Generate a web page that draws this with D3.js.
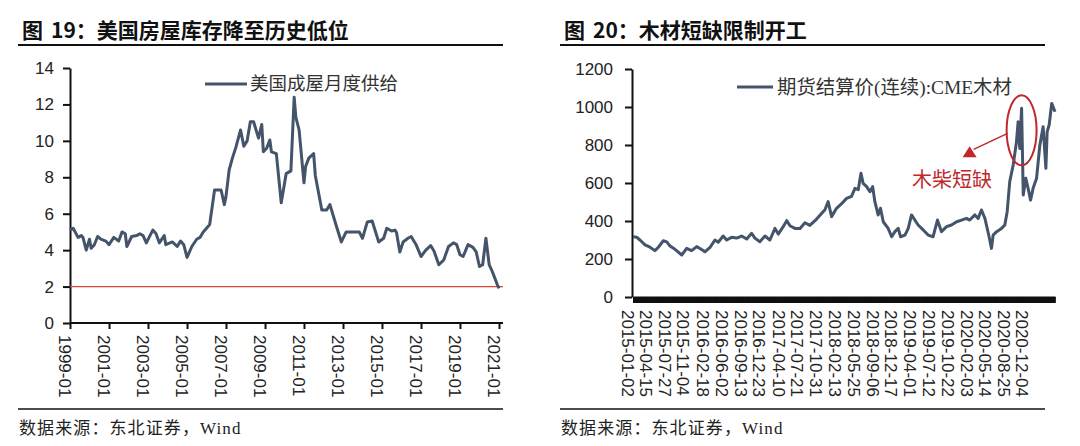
<!DOCTYPE html>
<html>
<head>
<meta charset="utf-8">
<script src="https://cdn.jsdelivr.net/npm/d3@7"></script>
<style>
  html, body { margin: 0; padding: 0; background: #fff; }
  svg { display: block; }
</style>
</head>
<body>
<svg id="chart" width="1080" height="446"></svg>
<script>
// ---------------- DATA ----------------
// Figure 19: US existing home months' supply
const supplyDates = ["1999-01","1999-03","1999-06","1999-08","1999-09","1999-11","2000-01","2000-02","2000-04","2000-06","2000-08","2000-11",
"2001-01","2001-04","2001-07","2001-09","2001-11","2001-12","2002-03","2002-06","2002-08","2002-10","2002-12",
"2003-04","2003-06","2003-08","2003-11","2003-12","2004-04","2004-07","2004-09","2004-11","2005-01","2005-04","2005-07","2005-09","2005-11",
"2006-01","2006-03","2006-06","2006-10","2006-12","2007-01","2007-03","2007-05","2007-07","2007-10","2007-12",
"2008-02","2008-04","2008-06","2008-09","2008-11","2008-12","2009-02","2009-04","2009-05","2009-08","2009-11",
"2010-02","2010-05","2010-07","2010-08","2010-10","2011-01","2011-02","2011-04","2011-07","2011-08","2011-12",
"2012-03","2012-05","2012-09","2012-12","2013-03","2013-07","2013-11","2014-01","2014-04","2014-07","2014-11",
"2015-02","2015-04","2015-07","2015-09","2015-10","2015-12","2016-02","2016-05","2016-07","2016-10",
"2017-01","2017-04","2017-07","2017-09","2017-12","2018-03","2018-06","2018-09","2018-11",
"2019-01","2019-03","2019-06","2019-09","2019-11","2020-01","2020-03","2020-05","2020-07","2020-09","2020-12","2021-01"];
const supplyValues = [5.1,5.2,4.7,4.8,4.7,4.0,4.6,4.1,4.3,4.75,4.6,4.5,
4.3,4.7,4.5,5.0,4.9,4.2,4.75,4.8,4.9,4.8,4.4,
5.1,4.9,4.4,4.8,4.3,4.45,4.2,4.5,4.3,3.6,4.2,4.6,4.7,5.0,
5.2,5.4,7.3,7.3,6.5,6.95,8.4,9.05,9.6,10.6,9.7,
10.0,11.05,11.05,10.15,10.9,9.4,9.6,10.05,9.4,9.3,6.6,
8.2,8.35,12.4,11.3,10.6,7.7,8.6,9.05,9.3,8.1,6.2,
6.2,6.5,5.3,4.45,5.0,5.0,5.0,4.65,5.55,5.6,4.45,
4.65,5.2,5.05,5.1,4.95,3.9,4.45,4.65,4.75,4.3,
3.65,4.0,4.25,3.95,3.2,3.45,4.2,4.4,4.3,
3.75,3.65,4.3,4.15,3.9,3.1,3.2,4.65,3.2,2.8,2.1,1.9];
const supplyTicksY = [0,2,4,6,8,10,12,14];
const supplyTicksX = ["1999-01","2001-01","2003-01","2005-01","2007-01","2009-01","2011-01","2013-01","2015-01","2017-01","2019-01","2021-01"];
const supplyRefLine = 2;

// Figure 20: CME lumber futures settlement price (continuous)
const lumberDates = ["2015-01-02","2015-01-22","2015-02-09","2015-03-09","2015-04-05","2015-05-02","2015-05-21","2015-06-17","2015-07-06","2015-07-24",
"2015-08-20","2015-09-26","2015-10-23","2015-11-19","2015-12-17","2016-01-13","2016-01-31","2016-02-28","2016-03-26","2016-04-13",
"2016-05-10","2016-05-29","2016-06-25","2016-07-23","2016-08-19","2016-09-16","2016-10-13","2016-10-31","2016-11-27","2016-12-25",
"2017-01-21","2017-02-18","2017-03-08","2017-04-04","2017-04-23","2017-05-11","2017-06-07","2017-07-05","2017-08-01","2017-08-28",
"2017-10-04","2017-10-31","2017-11-18","2017-12-06","2017-12-25","2018-01-21","2018-02-18","2018-03-17","2018-04-13","2018-05-02",
"2018-05-20","2018-06-04","2018-06-16","2018-07-05","2018-07-23","2018-08-07","2018-08-19","2018-09-06","2018-09-19","2018-10-04",
"2018-10-31","2018-11-19","2018-12-07","2018-12-25","2019-01-07","2019-01-31","2019-02-18","2019-03-08","2019-03-26","2019-04-13",
"2019-05-11","2019-06-07","2019-07-04","2019-07-28","2019-08-19","2019-09-16","2019-10-13","2019-11-10","2019-12-07","2020-01-03",
"2020-01-21","2020-02-18","2020-03-07","2020-03-25","2020-04-13","2020-05-06","2020-05-19","2020-05-28","2020-06-16","2020-07-13",
"2020-07-31","2020-08-13","2020-08-27","2020-09-15","2020-10-03","2020-10-12","2020-10-21","2020-10-31","2020-11-09","2020-11-23",
"2020-12-06","2020-12-19","2021-01-02","2021-01-21","2021-02-08","2021-02-26","2021-03-13","2021-03-20","2021-03-31","2021-04-14","2021-05-02"];
const lumberValues = [317,315,300,274,262,244,262,296,290,268,
251,221,256,244,265,250,238,261,300,288,
321,300,314,310,321,305,335,310,291,321,
300,361,331,370,402,375,361,361,391,377,
410,440,458,502,423,467,491,519,530,572,
565,651,598,581,554,581,502,432,467,396,
361,317,344,361,317,326,361,432,405,379,
353,326,317,405,344,370,379,396,405,414,
405,432,414,458,414,317,256,326,344,361,
379,449,607,695,817,923,782,993,537,625,
570,510,572,625,800,896,677,870,905,1019,975];
const lumberTicksY = [0,200,400,600,800,1000,1200];
const lumberTickLabels = ["2015-01-02","2015-04-15","2015-07-27","2015-11-04","2016-02-18","2016-06-02","2016-09-13","2016-12-23",
"2017-04-10","2017-07-21","2017-10-31","2018-02-13","2018-05-25","2018-09-06","2018-12-17","2019-04-01","2019-07-12","2019-10-22",
"2020-02-03","2020-05-14","2020-08-25","2020-12-04"];

const titleLeftNo = "图", titleLeftRest = "19：美国房屋库存降至历史低位";
const titleRightNo = "图", titleRightRest = "20：木材短缺限制开工";
const legendLeft = "美国成屋月度供给";
const legendRight = "期货结算价(连续):CME木材";
const annotationText = "木柴短缺";
const sourceText = "数据来源：东北证券，Wind";

// ---------------- DRAW ----------------
const svg = d3.select("#chart");
svg.append("rect").attr("width",1080).attr("height",446).attr("fill","#fff");

const LINE = "#44546A";
const RED = "#C0282D";
const TICKFONT = "'Liberation Sans', Arial, sans-serif";
const CJK = "'Liberation Serif', 'Noto Sans CJK SC', serif";
const parseM = d3.timeParse("%Y-%m");
const parseD = d3.timeParse("%Y-%m-%d");

function header(x0, x1, no, rest) {
  const t = svg.append("g").attr("font-family", "'Noto Sans CJK SC', sans-serif").attr("font-weight", "bold")
    .attr("font-size", 21).attr("fill", "#111");
  t.append("text").attr("x", x0 + 4).attr("y", 38).text(no);
  t.append("text").attr("x", x0 + 33).attr("y", 38).text(rest);
  svg.append("line").attr("x1", x0).attr("x2", x1).attr("y1", 45).attr("y2", 45)
    .attr("stroke", "#111").attr("stroke-width", 2);
  svg.append("line").attr("x1", x0).attr("x2", x1).attr("y1", 409).attr("y2", 409)
    .attr("stroke", "#111").attr("stroke-width", 1.5);
  svg.append("text").attr("x", x0 + 1).attr("y", 434)
    .attr("font-family", CJK).attr("font-size", 17).attr("letter-spacing", 1.1)
    .attr("fill", "#222").text(sourceText);
}
header(18, 503, titleLeftNo, titleLeftRest);
header(560, 1045, titleRightNo, titleRightRest);

function styleAxis(g) {
  g.selectAll("path.domain").attr("stroke", "#111").attr("stroke-width", 2);
  g.selectAll(".tick line").attr("stroke", "#111").attr("stroke-width", 2);
  g.selectAll(".tick text").attr("font-family", TICKFONT).attr("font-size", 17).attr("fill", "#222");
}

// ---- Left chart ----
{
  const data = supplyDates.map((d, i) => ({ date: parseM(d), value: supplyValues[i] }));
  const x = d3.scaleTime().domain([parseM("1999-01"), parseM("2021-01")]).range([70, 499]);
  const y = d3.scaleLinear().domain([0, 14]).range([323, 68]);

  const gy = svg.append("g").attr("transform", "translate(70,0)")
    .call(d3.axisLeft(y).tickValues(supplyTicksY).tickSize(7).tickPadding(9).tickSizeOuter(0));
  styleAxis(gy);

  const gx = svg.append("g").attr("transform", "translate(0,323)")
    .call(d3.axisBottom(x).tickValues(supplyTicksX.map(parseM)).tickFormat(d3.timeFormat("%Y-%m")).tickSize(6).tickSizeOuter(0));
  styleAxis(gx);
  gx.select("path.domain").attr("d", "M70,0H503");
  gx.selectAll(".tick text").attr("transform", "rotate(90)").attr("x", 12).attr("y", 6)
    .attr("dy", "0.35em").style("text-anchor", "start");

  svg.append("line").attr("x1", 70).attr("x2", 503)
    .attr("y1", y(supplyRefLine)).attr("y2", y(supplyRefLine))
    .attr("stroke", "#D9443A").attr("stroke-width", 1.3);

  svg.append("path").datum(data)
    .attr("d", d3.line().x(d => x(d.date)).y(d => y(d.value)))
    .attr("fill", "none").attr("stroke", LINE).attr("stroke-width", 3).attr("stroke-linejoin", "round");

  svg.append("line").attr("x1", 205).attr("x2", 247).attr("y1", 84).attr("y2", 84)
    .attr("stroke", LINE).attr("stroke-width", 3);
  svg.append("text").attr("x", 250).attr("y", 84).attr("dy", "0.35em")
    .attr("font-family", "'Noto Sans CJK SC', sans-serif").attr("font-size", 18.5)
    .attr("fill", "#333").text(legendLeft);
}

// ---- Right chart ----
{
  const data = lumberDates.map((d, i) => ({ date: parseD(d), value: lumberValues[i] }));
  const x = d3.scaleTime().domain([parseD(lumberDates[0]), parseD(lumberDates[lumberDates.length - 1])]).range([633, 1055]);
  const y = d3.scaleLinear().domain([0, 1200]).range([297, 69]);

  const gy = svg.append("g").attr("transform", "translate(632,0)")
    .call(d3.axisLeft(y).tickValues(lumberTicksY).tickFormat(d3.format("d")).tickSize(7).tickPadding(12).tickSizeOuter(0));
  styleAxis(gy);

  // dense category tick marks forming a solid band
  const tradingDays = d3.timeDay.range(x.domain()[0], x.domain()[1]).filter(d => d.getDay() !== 0 && d.getDay() !== 6);
  const gband = svg.append("g").attr("transform", "translate(0,297)")
    .call(d3.axisBottom(x).tickValues(tradingDays).tickFormat("").tickSize(6).tickSizeOuter(0));
  gband.selectAll("path.domain").attr("stroke", "#111").attr("stroke-width", 2);
  gband.selectAll(".tick line").attr("stroke", "#111").attr("stroke-width", 1);

  const gx = svg.append("g").attr("transform", "translate(0,297)")
    .call(d3.axisBottom(x).tickValues(lumberTickLabels.map(parseD)).tickFormat(d3.timeFormat("%Y-%m-%d")).tickSize(0));
  gx.select("path.domain").remove();
  gx.selectAll(".tick text").attr("font-family", TICKFONT).attr("font-size", 17).attr("fill", "#222")
    .attr("transform", "rotate(90)").attr("x", 13).attr("y", 6).attr("dy", "0.35em").style("text-anchor", "start");

  svg.append("path").datum(data)
    .attr("d", d3.line().x(d => x(d.date)).y(d => y(d.value)))
    .attr("fill", "none").attr("stroke", LINE).attr("stroke-width", 3).attr("stroke-linejoin", "round");

  svg.append("line").attr("x1", 737).attr("x2", 773).attr("y1", 87).attr("y2", 87)
    .attr("stroke", LINE).attr("stroke-width", 3);
  svg.append("text").attr("x", 777).attr("y", 87).attr("dy", "0.35em")
    .attr("font-family", CJK).attr("font-size", 19.4).attr("fill", "#333").text(legendRight);

  // annotation: ellipse around the 2020 spike, arrow and label
  const peak = data.reduce((a, b) => (b.date < parseD("2021-01-01") && b.value > a.value ? b : a), data[0]);
  const cx = x(peak.date), cy = y(peak.value) + 22;
  svg.append("ellipse").attr("cx", cx).attr("cy", cy).attr("rx", 15).attr("ry", 35)
    .attr("fill", "none").attr("stroke", RED).attr("stroke-width", 2);
  svg.append("line").attr("x1", cx - 14).attr("y1", cy + 3).attr("x2", cx - 48).attr("y2", cy + 19)
    .attr("stroke", RED).attr("stroke-width", 1.5);
  svg.append("path")
    .attr("d", `M${cx - 52},${cy + 16} L${cx - 45},${cy + 27} L${cx - 59},${cy + 27} Z`)
    .attr("fill", RED);
  svg.append("text").attr("x", 912).attr("y", 180).attr("dy", "0.35em")
    .attr("font-family", CJK).attr("font-size", 20).attr("fill", RED).text(annotationText);
}
</script>
</body>
</html>
